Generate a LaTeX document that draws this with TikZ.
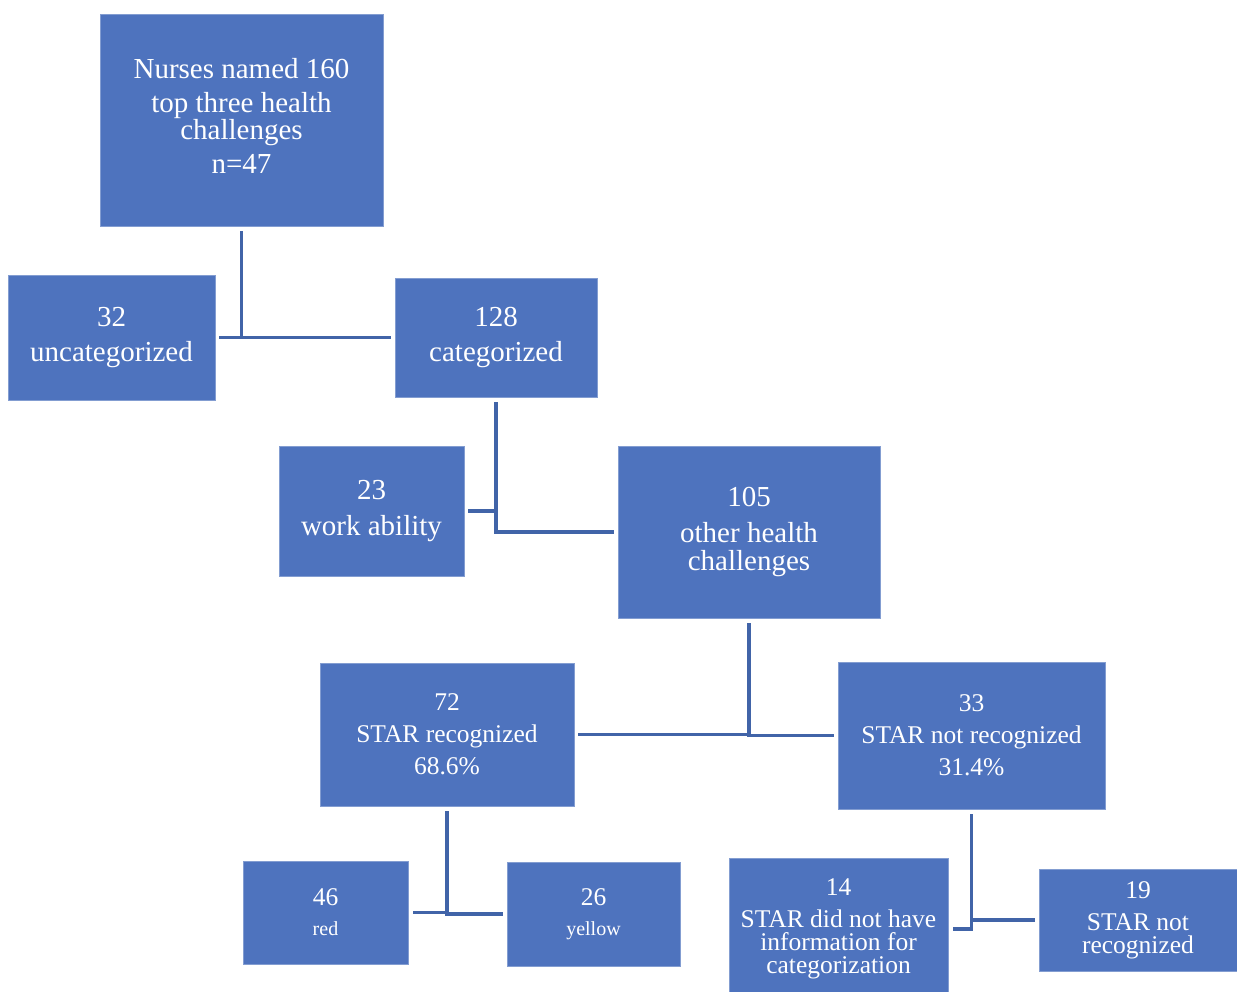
\documentclass[tikz,border=0pt]{standalone}
\usepackage{fontspec}
\setmainfont{Liberation Serif}
\usetikzlibrary{calc}
\definecolor{boxblue}{HTML}{4E73BE}
\definecolor{lineblue}{HTML}{4164A8}
\newcommand{\szA}{\fontsize{29}{33}\selectfont}
\newcommand{\szB}{\fontsize{25.5}{32}\selectfont}
\newcommand{\szC}{\fontsize{20}{32}\selectfont}
\tikzset{
  box/.style={draw=boxblue!70!white, line width=0.6pt, fill=boxblue, text=white, align=center, inner sep=0pt, font=\szA},
  conn/.style={draw=lineblue, line width=3.5pt}
}
\begin{document}
\begin{tikzpicture}[x=1pt,y=-1pt]
\useasboundingbox (0,0) rectangle (1237,992);
\node[box, minimum width=283pt, minimum height=212pt] (top) at (241.5,120) {Nurses named 160\\[1pt] top three health\\[-6pt] challenges\\[1pt] n=47\\[-24pt]};
\node[box, minimum width=207pt, minimum height=125pt] (unc) at (111.5,337.5) {32\\[2pt] uncategorized};
\node[box, minimum width=202pt, minimum height=119pt] (cat) at (496,337.5) {128\\[2pt] categorized};
\node[box, minimum width=185pt, minimum height=130pt] (work) at (371.5,511) {23\\[3pt] work ability};
\node[box, minimum width=262pt, minimum height=172pt] (oth) at (749,532) {105\\[3pt] other health\\[-5pt] challenges};
\node[box, font=\szB, minimum width=254pt, minimum height=143pt] (rec) at (447,734.5) {72\\ STAR recognized\\ 68.6\%};
\node[box, font=\szB, minimum width=267pt, minimum height=147pt] (nrec) at (971.5,735.5) {33\\ STAR not recognized\\ 31.4\%};
\node[box, font=\szB, minimum width=165pt, minimum height=103pt] (red) at (325.5,912.5) {46\\[-2pt] {\szC red}};
\node[box, font=\szB, minimum width=173pt, minimum height=104pt] (yel) at (593.5,914) {26\\[-2pt] {\szC yellow}};
\node[box, font=\szB, minimum width=219pt, minimum height=142pt] (info) at (838.5,929) {14\\ STAR did not have\\[-9pt] information for\\[-9pt] categorization};
\node[box, font=\szB, minimum width=198pt, minimum height=102pt] (n19) at (1138,920) {19\\ STAR not\\[-9pt] recognized};
% connectors
\draw[conn] ([yshift=-5pt]top.south) -- (top.south |- unc.east);
\draw[conn, shorten <=4pt, shorten >=4pt] (unc.east) -- (cat.west);
\draw[conn] ([yshift=-5pt]cat.south) -- (cat.south |- oth.west) -- ([xshift=-4pt]oth.west);
\draw[conn] ([xshift=4pt]work.east) -- (work.east -| cat.south);
\draw[conn] ([yshift=-5pt]oth.south) -- (oth.south |- nrec.west) -- ([xshift=-4pt]nrec.west);
\draw[conn] ([xshift=4pt]rec.east) -- (rec.east -| oth.south);
\draw[conn] ([yshift=-5pt]rec.south) -- (rec.south |- yel.west) -- ([xshift=-4pt]yel.west);
\draw[conn] ([xshift=5pt]red.east) -- (red.east -| rec.south);
\draw[conn] ([yshift=-5pt]nrec.south) -- (nrec.south |- info.east) -- ([xshift=5pt]info.east);
\draw[conn] (nrec.south |- n19.west) -- ([xshift=-4pt]n19.west);
\end{tikzpicture}
\end{document}
